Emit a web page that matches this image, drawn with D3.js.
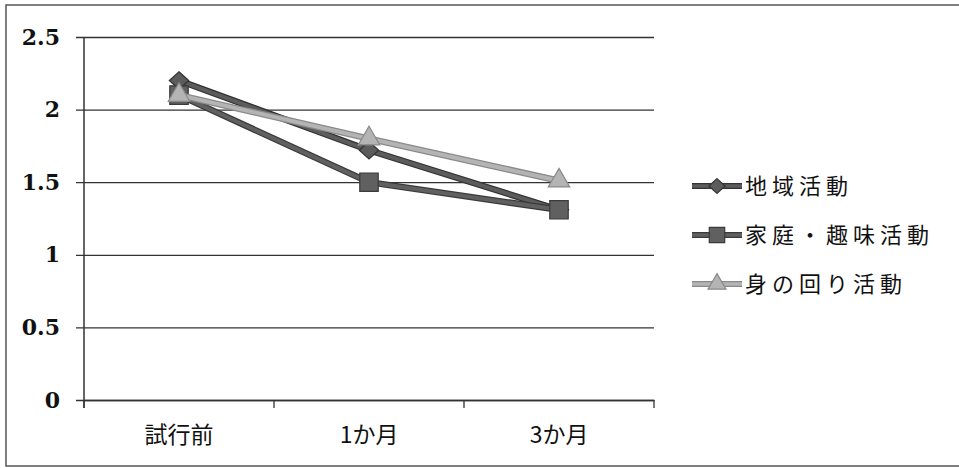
<!DOCTYPE html>
<html>
<head>
<meta charset="utf-8">
<script src="https://cdn.jsdelivr.net/npm/d3@7"></script>
<style>
  body { margin: 0; background: #fff; }
  text { fill: #111; }
</style>
</head>
<body>
<div id="chart"></div>
<script>
// data
var categories = ["試行前", "1か月", "3か月"];
var seriesNames = ["地域活動", "家庭・趣味活動", "身の回り活動"];
var chiiki = [2.2, 1.72, 1.31];
var katei = [2.1, 1.5, 1.31];
var mimawari = [2.1, 1.8, 1.51];
var yTicks = [0, 0.5, 1, 1.5, 2, 2.5];

var seriesValues = [chiiki, katei, mimawari];
var colors = ["#5c5c5c", "#606060", "#b4b4b4"];
var edges = ["#333", "#3a3a3a", "#8a8a8a"];

// diamond drawn as a rotated square (wider than d3's symbolDiamond)
var wideDiamond = {
  draw: function(context, size) {
    var r = Math.sqrt(size / 2);
    context.moveTo(0, -r * 0.95);
    context.lineTo(r * 1.05, 0);
    context.lineTo(0, r * 0.95);
    context.lineTo(-r * 1.05, 0);
    context.closePath();
  }
};
var shapes = [wideDiamond, d3.symbolSquare, d3.symbolTriangle];
var sizes = [170, 340, 200];

var W = 959, H = 468;
var margin = {top: 37, left: 84},
    width = 570,
    height = 363;

var svg = d3.select("#chart").append("svg")
    .attr("width", W)
    .attr("height", H);

// outer frame
svg.append("rect")
    .attr("x", 6).attr("y", 5)
    .attr("width", 970).attr("height", 461)
    .attr("fill", "none")
    .attr("stroke", "#555")
    .attr("stroke-width", 1.5);

var g = svg.append("g")
    .attr("transform", "translate(" + margin.left + "," + margin.top + ")");

var x = d3.scaleBand()
    .domain(categories)
    .range([0, width]);
var y = d3.scaleLinear()
    .domain([0, 2.5])
    .range([height, 0]);

// gridlines + y axis
var yAxis = g.append("g")
    .call(d3.axisLeft(y).tickValues(yTicks).tickSize(-width).tickPadding(24)
          .tickFormat(function(d) { return d; }));
yAxis.select(".domain").remove();
yAxis.selectAll("line")
    .attr("x1", -8)
    .attr("stroke", "#333")
    .attr("stroke-width", 1.3);
yAxis.selectAll("text")
    .style("font-family", "'DejaVu Serif', serif")
    .style("font-size", "22px")
    .style("font-weight", "bold")
    .style("fill", "#111");

g.append("line")
    .attr("x1", 0).attr("x2", 0)
    .attr("y1", 0).attr("y2", height + 8)
    .attr("stroke", "#333")
    .attr("stroke-width", 1.5);

// x axis with ticks at band edges
var xAxis = g.append("g")
    .attr("transform", "translate(0," + height + ")")
    .call(d3.axisBottom(x).tickSize(0).tickPadding(27));
xAxis.select(".domain")
    .attr("stroke", "#333")
    .attr("stroke-width", 1.5);
xAxis.selectAll("text")
    .style("font-family", "'Noto Sans CJK JP', sans-serif")
    .style("font-size", "23px")
    .style("fill", "#111");
var edgesX = categories.map(function(c) { return x(c); }).concat([width]);
g.selectAll(".xtick")
    .data(edgesX)
    .enter().append("line")
    .attr("x1", function(d) { return d; })
    .attr("x2", function(d) { return d; })
    .attr("y1", height)
    .attr("y2", height + 8)
    .attr("stroke", "#333")
    .attr("stroke-width", 1.3);

var line = d3.line()
    .x(function(d, i) { return x(categories[i]) + x.bandwidth() / 2; })
    .y(function(d) { return y(d); });

seriesValues.forEach(function(vals, s) {
  g.append("path")
      .datum(vals)
      .attr("d", line)
      .attr("fill", "none")
      .attr("stroke", edges[s])
      .attr("stroke-width", 6.5);
  g.append("path")
      .datum(vals)
      .attr("d", line)
      .attr("fill", "none")
      .attr("stroke", colors[s])
      .attr("stroke-width", 4);
  g.selectAll(".m" + s)
      .data(vals)
      .enter().append("path")
      .attr("transform", function(d, i) {
        return "translate(" + (x(categories[i]) + x.bandwidth() / 2) + "," + y(d) + ")";
      })
      .attr("d", d3.symbol().type(shapes[s]).size(sizes[s]))
      .attr("fill", colors[s])
      .attr("stroke", edges[s])
      .attr("stroke-width", 1.2);
});

// legend
var legend = svg.append("g");
seriesNames.forEach(function(name, s) {
  var ly = 186 + s * 49;
  legend.append("line")
      .attr("x1", 692).attr("x2", 742)
      .attr("y1", ly).attr("y2", ly)
      .attr("stroke", edges[s])
      .attr("stroke-width", 6);
  legend.append("line")
      .attr("x1", 692).attr("x2", 742)
      .attr("y1", ly).attr("y2", ly)
      .attr("stroke", colors[s])
      .attr("stroke-width", 3.5);
  legend.append("path")
      .attr("transform", "translate(717," + ly + ")")
      .attr("d", d3.symbol().type(shapes[s]).size(sizes[s] * 0.7))
      .attr("fill", colors[s])
      .attr("stroke", edges[s])
      .attr("stroke-width", 1.2);
  legend.append("text")
      .attr("x", 745)
      .attr("y", ly)
      .attr("dy", "0.36em")
      .style("font-family", "'Noto Sans CJK JP', sans-serif")
      .style("font-size", "22px")
      .style("letter-spacing", "5px")
      .text(name);
});
</script>
</body>
</html>
